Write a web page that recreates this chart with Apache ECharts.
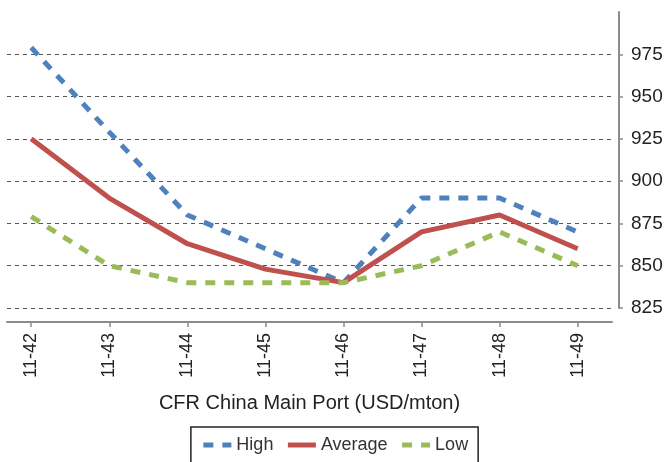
<!DOCTYPE html>
<html>
<head>
<meta charset="utf-8">
<script src="https://cdn.jsdelivr.net/npm/echarts@6/dist/echarts.min.js"></script>
<style>
  html, body { margin: 0; padding: 0; background: #fff; }
  #main { width: 669px; height: 462px; }
</style>
</head>
<body>
<div id="main"></div>
<script>
// weeks on the x axis
var categories = ['11-42', '11-43', '11-44', '11-45', '11-46', '11-47', '11-48', '11-49']
var high = [979, 929, 880, 860, 840, 890, 890, 870]
var average = [925, 890, 863, 848, 840, 870, 880, 860]
var low = [879, 850, 840, 840, 840, 850, 870, 850]
var yTicks = [825, 850, 875, 900, 925, 950, 975]

var font = 'Liberation Sans, Arial, sans-serif'
var idx = categories.map(function (c, i) { return i })

function pairs(values) {
  return values.map(function (v, i) { return [i, v] })
}

var myChart = echarts.init(document.getElementById('main'))
var option = {
  animation: false,
  textStyle: { fontFamily: font, color: '#222' },
  grid: { left: 7, right: 57, top: 12, bottom: 154 },
  xAxis: {
    type: 'value',
    min: -0.31,
    max: 7.44,
    offset: 14,
    splitLine: { show: false },
    axisLine: { onZero: false, lineStyle: { color: '#8c8c8c', width: 2 } },
    axisTick: { show: true, customValues: idx, length: 5, lineStyle: { color: '#8c8c8c', width: 1.5 } },
    axisLabel: {
      customValues: idx,
      rotate: 90,
      fontSize: 18,
      color: '#222',
      margin: 11,
      formatter: function (v) { return categories[Math.round(v)] }
    },
    name: 'CFR China Main Port (USD/mton)',
    nameLocation: 'middle',
    nameGap: 71,
    nameTextStyle: { fontSize: 20, color: '#222' }
  },
  yAxis: {
    type: 'value',
    position: 'right',
    offset: 7,
    min: 825,
    max: 1000,
    interval: 25,
    axisLine: { show: true, onZero: false, lineStyle: { color: '#8c8c8c', width: 2 } },
    axisTick: { show: true, customValues: yTicks, length: 4, lineStyle: { color: '#8c8c8c', width: 1.5 } },
    axisLabel: { customValues: yTicks, fontSize: 19, color: '#222', margin: 12 },
    splitLine: {
      show: true,
      lineStyle: { color: '#555', type: [4, 4], width: 1 }
    }
  },
  legend: {
    top: 427,
    left: 'center',
    padding: [9, 10, 14, 10],
    borderColor: '#222',
    borderWidth: 1.5,
    itemWidth: 28,
    itemHeight: 6,
    itemGap: 12,
    itemStyle: { opacity: 0 },
    lineStyle: { width: 5 },
    textStyle: { fontSize: 18, color: '#333' },
    data: ['High', 'Average', 'Low']
  },
  series: [
    {
      name: 'High',
      type: 'line',
      symbol: 'none',
      data: pairs(high),
      lineStyle: { color: '#4F81BD', width: 5, type: [10, 9], cap: 'butt' },
      itemStyle: { color: '#4F81BD' }
    },
    {
      name: 'Average',
      type: 'line',
      symbol: 'none',
      data: pairs(average),
      lineStyle: { color: '#C0504D', width: 5 },
      itemStyle: { color: '#C0504D' }
    },
    {
      name: 'Low',
      type: 'line',
      symbol: 'none',
      data: pairs(low),
      lineStyle: { color: '#9BBB59', width: 5, type: [10, 9], cap: 'butt' },
      itemStyle: { color: '#9BBB59' }
    }
  ]
}
myChart.setOption(option)
</script>
</body>
</html>
